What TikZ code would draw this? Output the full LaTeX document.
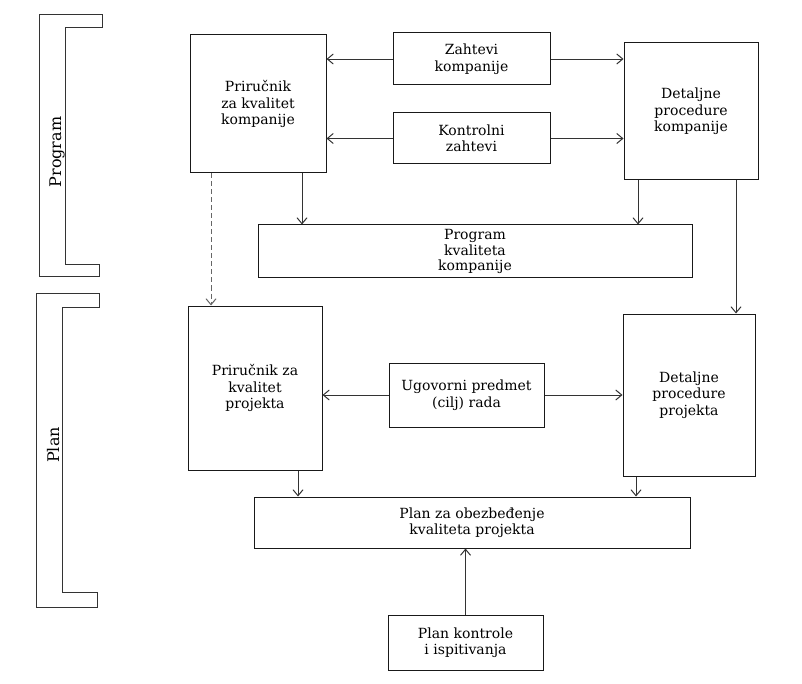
\documentclass[tikz,border=0pt]{standalone}
\usepackage{fontspec}
\setmainfont{DejaVu Serif}
\usetikzlibrary{arrows.meta}
\begin{document}
\begin{tikzpicture}[x=1pt,y=-1pt,
  box/.style={draw=black!90, line width=1pt, align=center, inner sep=2pt,
    font=\fontsize{14}{16.5}\selectfont},
  arr/.style={draw=black!80, line width=0.7pt, -{Straight Barb[length=6pt,width=10pt,line width=1pt]}},
  dasharr/.style={arr, draw=black!60, dash pattern=on 5pt off 3pt},
  brk/.style={draw=black!80, line width=1pt},
  lbl/.style={font=\fontsize{16}{18}\selectfont, rotate=90, anchor=base}]
\useasboundingbox (0,0) rectangle (802,684);

% brackets
\draw[brk] (102,15) -- (39,15) -- (39,277) -- (99,277) -- (99,265) -- (65,265) -- (65,28) -- (102,28) -- cycle;
\draw[brk] (99,293) -- (36,293) -- (36,607) -- (97,607) -- (97,592) -- (62,592) -- (62,307) -- (99,307) -- cycle;
\node[lbl] (prog) at (61,152) {Program};
\node[lbl] (plan) at (59,445) {Plan};

% boxes
\node[box, minimum width=136pt, minimum height=138pt] (pkk) at (258,104) {Priručnik\\za kvalitet\\kompanije};
\node[box, minimum width=157pt, minimum height=52pt] (zk) at (471.5,59) {Zahtevi\\kompanije};
\node[box, minimum width=157pt, minimum height=51pt] (kz) at (471.5,138.5) {Kontrolni\\zahtevi};
\node[box, minimum width=134pt, minimum height=137pt] (dpk) at (691,111.5) {Detaljne\\procedure\\kompanije};
\node[box, minimum width=434pt, minimum height=53pt, font=\fontsize{14}{15.5}\selectfont] (pkkomp) at (475,251.5) {Program\\kvaliteta\\kompanije};
\node[box, minimum width=134pt, minimum height=164pt] (pkp) at (255,388) {Priručnik za\\kvalitet\\projekta};
\node[box, minimum width=155pt, minimum height=64pt] (ug) at (466.5,395) {Ugovorni predmet\\(cilj) rada};
\node[box, minimum width=132pt, minimum height=162pt] (dpp) at (689,395) {Detaljne\\procedure\\projekta};
\node[box, minimum width=436pt, minimum height=51pt] (pzo) at (472,522.5) {Plan za obezbeđenje\\kvaliteta projekta};
\node[box, minimum width=155pt, minimum height=55pt] (pki) at (465.5,642.5) {Plan kontrole\\i ispitivanja};

% helper x positions
\coordinate (xa) at (211,0);
\coordinate (xb) at (302,0);
\coordinate (xc) at (638,0);
\coordinate (xd) at (736,0);
\coordinate (xe) at (298,0);
\coordinate (xf) at (636,0);

% connectors
\draw[arr] (zk.west) -- (zk.west -| pkk.east);
\draw[arr] (zk.east) -- (zk.east -| dpk.west);
\draw[arr] (kz.west) -- (kz.west -| pkk.east);
\draw[arr] (kz.east) -- (kz.east -| dpk.west);
\draw[dasharr] (pkk.south -| xa) -- (pkp.north -| xa);
\draw[arr] (pkk.south -| xb) -- (pkkomp.north -| xb);
\draw[arr] (dpk.south -| xc) -- (pkkomp.north -| xc);
\draw[arr] (dpk.south -| xd) -- (dpp.north -| xd);
\draw[arr] (ug.west) -- (ug.west -| pkp.east);
\draw[arr] (ug.east) -- (ug.east -| dpp.west);
\draw[arr] (pkp.south -| xe) -- (pzo.north -| xe);
\draw[arr] (dpp.south -| xf) -- (pzo.north -| xf);
\draw[arr] (pki.north) -- (pki.north |- pzo.south);
\end{tikzpicture}
\end{document}
